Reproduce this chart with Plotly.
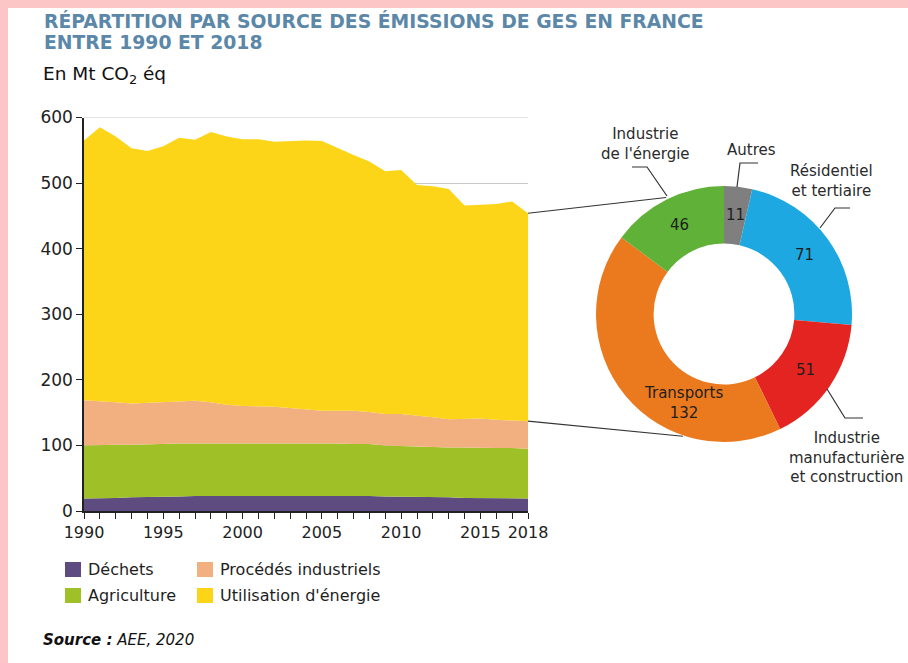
import math
import plotly.graph_objects as go

W, H = 908, 663

# ---------------- data ----------------
years = list(range(1990, 2019))
dechets = [19, 19, 20, 21, 21, 22, 22, 23, 23, 23, 24, 24, 24, 24, 24, 24, 23, 23, 23, 22, 22, 22, 21, 21, 20, 20, 19, 19, 19]
agriculture = [81, 82, 81, 80, 81, 80, 81, 80, 80, 81, 80, 80, 80, 79, 79, 79, 80, 79, 79, 78, 77, 77, 77, 76, 77, 76, 77, 77, 76]
procedes = [69, 67, 65, 63, 63, 65, 65, 65, 63, 58, 56, 56, 55, 54, 52, 50, 50, 51, 49, 48, 49, 47, 45, 43, 44, 45, 43, 42, 42]
energie = [396, 417, 405, 389, 384, 389, 401, 398, 412, 409, 407, 407, 404, 407, 410, 411, 400, 390, 382, 370, 372, 351, 352, 351, 325, 326, 329, 334, 317]

area_names = ["Déchets", "Agriculture", "Procédés industriels", "Utilisation d'énergie"]
area_colors = ["#5e4c80", "#a0c028", "#f2b080", "#fcd418"]

donut_labels = ["Autres", "Résidentiel et tertiaire", "Industrie manufacturière et construction",
                "Transports", "Industrie de l'énergie"]
donut_values = [11, 71, 51, 132, 46]
donut_colors = ["#7f7f7f", "#1ea8e1", "#e42420", "#eb7a1e", "#5fb237"]

x_tickvals = [1990, 1995, 2000, 2005, 2010, 2015, 2018]
y_tickvals = [0, 100, 200, 300, 400, 500, 600]

FONT = "DejaVu Sans"

# ---------------- geometry helpers (pixels -> paper) ----------------
def PX(px):
    return px / W

def PY(py):
    return 1 - py / H

AX_L, AX_R = 84, 528          # x axis pixel span
AX_T, AX_B = 117.5, 511       # y axis pixel span (600 -> 0)
Y_MAX = 600

def data_to_px(xv, yv):
    px = AX_L + (xv - years[0]) / (years[-1] - years[0]) * (AX_R - AX_L)
    py = AX_B - yv / Y_MAX * (AX_B - AX_T)
    return px, py

# donut geometry
CX, CY, R = 724, 314, 128
HOLE = 0.55

def donut_pt(angle_deg, rad):
    a = math.radians(angle_deg)
    return CX + rad * math.sin(a), CY - rad * math.cos(a)

fig = go.Figure()

# ---------------- stacked area ----------------
for name, vals, col in zip(area_names, [dechets, agriculture, procedes, energie], area_colors):
    fig.add_trace(go.Scatter(
        x=years, y=vals, name=name, stackgroup="one", mode="lines",
        line=dict(width=0, color=col), fillcolor=col, showlegend=False,
        hoverinfo="x+y+name"))

# ---------------- donut ----------------
fig.add_trace(go.Pie(
    labels=donut_labels, values=donut_values, hole=HOLE, sort=False,
    direction="clockwise", rotation=0, textinfo="none",
    marker=dict(colors=donut_colors, line=dict(width=0)),
    domain=dict(x=[PX(CX - R), PX(CX + R)], y=[PY(CY + R), PY(CY - R)]),
    showlegend=False))

annotations = []
shapes = []

# top gridline (plotly omits the grid line at the range end)
shapes.append(dict(type="line", xref="x", yref="y", x0=years[0], x1=years[-1], y0=Y_MAX, y1=Y_MAX,
                   line=dict(color="#c8c8c8", width=1), layer="below"))

# donut value labels computed from slice angles
total = sum(donut_values)
cum = 0
mid_r = R * (1 + HOLE) / 2
for lab, v in zip(donut_labels, donut_values):
    a0 = cum / total * 360
    a1 = (cum + v) / total * 360
    cum += v
    if lab == "Transports":
        ang = a0 + 0.33 * (a1 - a0)
        px, py = donut_pt(ang, mid_r - 2)
        txt = "Transports<br>132"
    else:
        px, py = donut_pt((a0 + a1) / 2, mid_r)
        txt = str(v)
    annotations.append(dict(x=PX(px), y=PY(py), xref="paper", yref="paper", text=txt,
                            showarrow=False, xanchor="center", yanchor="middle",
                            font=dict(family=FONT, size=15, color="#1e1e1e")))

# outer labels
def lab(text, x, y, anchor="center"):
    annotations.append(dict(x=PX(x), y=PY(y), xref="paper", yref="paper", text=text,
                            showarrow=False, xanchor=anchor, yanchor="middle",
                            font=dict(family=FONT, size=15, color="#2a2a2a")))

lab("Industrie<br>de l'énergie", 645, 144)
lab("Autres", 751, 150)
lab("Résidentiel<br>et tertiaire", 831, 181)
lab("Industrie<br>manufacturière<br>et construction", 847, 457)

def poly(pts, color="#333333", width=1.2):
    path = "M " + " L ".join(f"{PX(x):.5f},{PY(y):.5f}" for x, y in pts)
    shapes.append(dict(type="path", path=path, xref="paper", yref="paper",
                       line=dict(color=color, width=width)))

poly([(632, 167), (647, 167), (667, 196)])
poly([(758, 163), (740, 163), (737, 187)])
poly([(850, 208), (835, 208), (820, 228)])
poly([(827, 389), (845, 418), (863, 418)])

# connecting lines from the 2018 stack to the donut
tot2018 = dechets[-1] + agriculture[-1] + procedes[-1] + energie[-1]
proc_top2018 = dechets[-1] + agriculture[-1] + procedes[-1]
p_top = data_to_px(years[-1], tot2018)
p_bot = data_to_px(years[-1], proc_top2018)
poly([p_top, donut_pt(333.6, R + 2)], color="#333333", width=1.1)
poly([p_bot, donut_pt(198.6, R + 1)], color="#333333", width=1.1)

# titles
annotations.append(dict(x=PX(42), y=PY(21.5), xref="paper", yref="paper", xanchor="left", yanchor="middle",
                        text="<b>RÉPARTITION PAR SOURCE DES ÉMISSIONS DE GES EN FRANCE</b>", showarrow=False,
                        font=dict(family=FONT, size=18.8, color="#5b87a8")))
annotations.append(dict(x=PX(42), y=PY(43), xref="paper", yref="paper", xanchor="left", yanchor="middle",
                        text="<b>ENTRE 1990 ET 2018</b>", showarrow=False,
                        font=dict(family=FONT, size=18.8, color="#5b87a8")))
annotations.append(dict(x=PX(41), y=PY(75), xref="paper", yref="paper", xanchor="left", yanchor="middle",
                        text="En Mt CO<sub>2</sub> éq", showarrow=False,
                        font=dict(family=FONT, size=18.5, color="#111111")))
annotations.append(dict(x=PX(41), y=PY(640), xref="paper", yref="paper", xanchor="left", yanchor="middle",
                        text="<b><i>Source :</i></b><i> AEE, 2020</i>", showarrow=False,
                        font=dict(family=FONT, size=15, color="#111111")))

# custom legend
leg_pos = [(65, 562), (65, 588), (197, 562), (197, 588)]
for name, col, (lx, ly) in zip(area_names, area_colors, leg_pos):
    shapes.append(dict(type="rect", xref="paper", yref="paper", x0=PX(lx), x1=PX(lx + 16),
                       y0=PY(ly + 15), y1=PY(ly), fillcolor=col, line=dict(width=0)))
    annotations.append(dict(x=PX(lx + 21), y=PY(ly + 7.5), xref="paper", yref="paper",
                            xanchor="left", yanchor="middle", text=name, showarrow=False,
                            font=dict(family=FONT, size=16, color="#1e1e1e")))

# pink frame
shapes.append(dict(type="rect", xref="paper", yref="paper", x0=0, x1=1, y0=PY(8), y1=1,
                   fillcolor="#fcc6c6", line=dict(width=0), layer="below"))
shapes.append(dict(type="rect", xref="paper", yref="paper", x0=0, x1=PX(8), y0=0, y1=1,
                   fillcolor="#fcc6c6", line=dict(width=0), layer="below"))

fig.update_layout(
    width=W, height=H, margin=dict(l=0, r=0, t=0, b=0, pad=0, autoexpand=False),
    paper_bgcolor="white", plot_bgcolor="white",
    xaxis=dict(domain=[PX(AX_L), PX(AX_R)], range=[years[0], years[-1]], automargin=False,
               tickvals=x_tickvals, tickangle=0, ticks="outside", ticklen=6,
               tickwidth=1.3, tickcolor="#222", showline=True, linecolor="#222", linewidth=1.5,
               minor=dict(tick0=years[0], dtick=1, ticks="outside", ticklen=6,
                          tickwidth=1.3, tickcolor="#222", showgrid=False),
               showgrid=False, zeroline=False,
               tickfont=dict(family=FONT, size=16, color="#222")),
    yaxis=dict(domain=[PY(AX_B), PY(AX_T)], range=[0, Y_MAX], tickvals=y_tickvals, automargin=False,
               ticks="outside", ticklen=6, tickwidth=1.3, tickcolor="#222",
               showline=True, linecolor="#222", linewidth=1.5,
               showgrid=True, gridcolor="#c8c8c8", gridwidth=1, zeroline=False,
               tickfont=dict(family=FONT, size=17, color="#222")),
    annotations=annotations, shapes=shapes,
)

fig.write_html("out.html", config={"displayModeBar": False},
               post_script="document.body.style.margin='0';document.body.style.overflow='hidden';")
